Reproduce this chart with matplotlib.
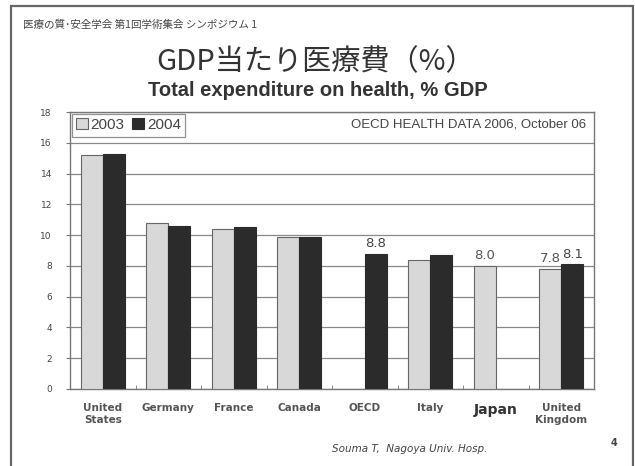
import matplotlib.pyplot as plt
import matplotlib.patches as mpatches
import numpy as np

# data: Total expenditure on health, % GDP (OECD Health Data 2006)
countries = ['United\nStates', 'Germany', 'France', 'Canada', 'OECD', 'Italy', 'Japan', 'United\nKingdom']
vals_2003 = [15.2, 10.8, 10.4, 9.9, np.nan, 8.4, 8.0, 7.8]
vals_2004 = [15.3, 10.6, 10.5, 9.9, 8.8, 8.7, np.nan, 8.1]
shown_2003 = ['', '', '', '', '', '', '8.0', '7.8']
shown_2004 = ['', '', '', '', '8.8', '', '', '8.1']
y_ticks = [0, 2, 4, 6, 8, 10, 12, 14, 16, 18]

jp = ['Noto Sans CJK JP', 'DejaVu Sans']

fig = plt.figure(figsize=(6.35, 4.66), dpi=100)
fig.patch.set_facecolor('white')

# slide frame
fig.patches.append(mpatches.Rectangle((11 / 635, -0.02), 622 / 635, 1.02 - 6 / 466,
                                      transform=fig.transFigure, fill=False,
                                      edgecolor='#666666', lw=1.6))

fig.text(23 / 635, 1 - 25 / 466, '医療の質･安全学会 第1回学術集会 シンポジウム 1',
         family=jp, fontsize=7.6, color='#444444', va='center', ha='left')
fig.text(316 / 635, 1 - 62 / 466, 'GDP当たり医療費（%）', family=jp, fontsize=21,
         color='#333333', ha='center', va='center')
fig.text(318 / 635, 1 - 91 / 466, 'Total expenditure on health, % GDP',
         family='Liberation Sans', fontweight='bold', fontsize=14.5,
         color='#333333', ha='center', va='center')

ax = fig.add_axes([70 / 635, 1 - 389 / 466, 524 / 635, 277 / 466])
x = np.arange(len(countries))
w = 0.335
ax.bar(x - w / 2, vals_2003, w, color='#d8d8d8', edgecolor='#666666', lw=0.8,
       label='2003', zorder=3)
ax.bar(x + w / 2, vals_2004, w, color='#2b2b2b', edgecolor='#2b2b2b', lw=0.8,
       label='2004', zorder=3)

for i in range(len(countries)):
    if shown_2003[i]:
        ax.text(x[i] - w / 2, vals_2003[i] + 0.25, shown_2003[i], ha='center', va='bottom',
                fontsize=9.5, color='#555555')
    if shown_2004[i]:
        ax.text(x[i] + w / 2, vals_2004[i] + 0.25, shown_2004[i], ha='center', va='bottom',
                fontsize=9.5, color='#444444')

ax.set_xlim(-0.5, len(countries) - 0.5)
ax.set_ylim(0, 18)
ax.set_yticks(y_ticks)
ax.yaxis.grid(True, color='#888888', lw=0.9, zorder=0)
ax.tick_params(axis='y', labelsize=6.5, labelcolor='#444444', length=3,
               color='#777777', pad=10)
ax.set_xticks(x)
ax.set_xticklabels(countries, fontsize=7.5, fontweight='bold', color='#555555',
                   family='DejaVu Sans', linespacing=1.3)
ax.tick_params(axis='x', length=0, pad=10)
ax.set_xticks(np.arange(len(countries) - 1) + 0.5, minor=True)
ax.tick_params(axis='x', which='minor', direction='in', length=3, color='#777777')
for lab in ax.get_xticklabels():
    lab.set_va('top')
    if lab.get_text() == 'Japan':
        lab.set_fontsize(10)
        lab.set_color('#333333')
for s in ax.spines.values():
    s.set_color('#777777')
    s.set_linewidth(1)

leg = ax.legend(loc='upper left', ncol=2, frameon=True, fancybox=False,
                handlelength=0.75, handleheight=0.75, handletextpad=0.2,
                columnspacing=0.5, borderpad=0.3, borderaxespad=0.1,
                prop={'family': 'Liberation Sans', 'size': 11})
leg.get_frame().set_edgecolor('#777777')
leg.get_frame().set_linewidth(0.9)
for t in leg.get_texts():
    t.set_color('#444444')

ax.text(0.985, 0.955, 'OECD HEALTH DATA 2006, October 06', transform=ax.transAxes,
        ha='right', va='center', fontsize=9.5, family='Liberation Sans', color='#444444')

fig.text(410 / 635, 1 - 449 / 466, 'Souma T,  Nagoya Univ. Hosp.', ha='center', va='center',
         fontsize=7.5, style='italic', color='#444444')
fig.text(614 / 635, 1 - 443 / 466, '4', ha='center', va='center', fontsize=7,
         fontweight='bold', color='#444444')

fig.savefig('out.png', dpi=100)
